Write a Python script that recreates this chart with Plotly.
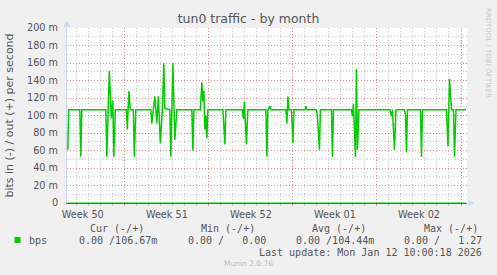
import plotly.graph_objects as go

# ---------------- data ----------------
out_time = [
    "2025-12-10 06:00", "2025-12-10 08:00", "2025-12-11 06:00", "2025-12-11 08:00", "2025-12-11 10:00",
    "2025-12-13 10:00", "2025-12-13 12:00", "2025-12-13 14:00", "2025-12-13 17:00", "2025-12-13 21:00",
    "2025-12-14 00:00", "2025-12-14 02:00", "2025-12-14 05:00", "2025-12-15 03:00", "2025-12-15 05:00",
    "2025-12-15 08:00", "2025-12-15 11:00", "2025-12-15 17:00", "2025-12-15 19:00", "2025-12-15 22:00",
    "2025-12-17 04:00", "2025-12-17 06:00", "2025-12-17 12:00", "2025-12-17 16:00", "2025-12-17 19:00",
    "2025-12-17 23:00", "2025-12-18 03:00", "2025-12-18 06:00", "2025-12-18 08:00", "2025-12-18 18:00",
    "2025-12-18 20:00", "2025-12-18 22:00", "2025-12-19 00:00", "2025-12-19 04:00", "2025-12-19 08:00",
    "2025-12-20 14:00", "2025-12-20 16:00", "2025-12-20 18:00", "2025-12-21 07:00", "2025-12-21 10:00",
    "2025-12-21 12:00", "2025-12-21 14:00", "2025-12-21 16:00", "2025-12-21 18:00", "2025-12-21 20:00",
    "2025-12-21 22:00", "2025-12-23 04:00", "2025-12-23 08:00", "2025-12-23 10:00", "2025-12-24 19:00",
    "2025-12-24 21:00", "2025-12-24 23:00", "2025-12-25 03:00", "2025-12-25 06:00", "2025-12-26 18:00",
    "2025-12-26 20:00", "2025-12-26 22:00", "2025-12-27 02:00", "2025-12-27 04:00", "2025-12-28 10:00",
    "2025-12-28 12:00", "2025-12-28 14:00", "2025-12-28 16:00", "2025-12-28 21:00", "2025-12-29 00:00",
    "2025-12-29 02:00", "2025-12-30 00:00", "2025-12-30 02:00", "2025-12-30 04:00", "2025-12-30 23:00",
    "2025-12-31 01:00", "2025-12-31 05:00", "2025-12-31 07:00", "2026-01-01 05:00", "2026-01-01 07:00",
    "2026-01-01 09:00", "2026-01-02 21:00", "2026-01-02 23:00", "2026-01-03 01:00", "2026-01-03 05:00",
    "2026-01-03 07:00", "2026-01-03 09:00", "2026-01-03 12:00", "2026-01-06 02:00", "2026-01-06 05:00",
    "2026-01-06 07:00", "2026-01-06 11:00", "2026-01-06 14:00", "2026-01-07 07:00", "2026-01-07 09:00",
    "2026-01-07 11:00", "2026-01-07 13:00", "2026-01-08 15:00", "2026-01-08 17:00", "2026-01-08 19:00",
    "2026-01-10 19:00", "2026-01-10 22:00", "2026-01-11 01:00", "2026-01-11 05:00", "2026-01-11 09:00",
    "2026-01-11 11:00", "2026-01-11 14:00", "2026-01-12 10:00",
]
out_milli_bps = [
    61, 106.67, 106.67, 53, 106.67,
    106.67, 53, 108, 151, 97,
    117, 53, 106.67, 106.67, 84,
    128, 106.67, 106.67, 53, 106.67,
    106.67, 91, 122, 91, 122,
    68, 106.67, 160, 108, 106.67,
    53, 106.67, 160, 72, 106.67,
    106.67, 60, 106.67, 106.67, 138,
    116, 128, 84, 100, 74,
    106.67, 106.67, 67, 106.67, 106.67,
    96, 116, 67, 106.67, 106.67,
    53, 106.67, 110.7, 106.67, 106.67,
    91, 122, 106.67, 106.67, 68.5,
    106.67, 106.67, 110.7, 106.67, 106.67,
    99, 61, 106.67, 106.67, 53,
    106.67, 106.67, 99, 113, 53,
    153, 61, 106.67, 106.67, 99,
    106.67, 61, 106.67, 106.67, 101,
    58, 106.67, 106.67, 53, 106.67,
    106.67, 65, 142, 106.67, 106.67,
    53, 106.67, 106.67,
]
in_time = ["2025-12-10 06:00", "2026-01-12 10:00"]
in_bps = [0, 0]

x_range = ["2025-12-10 04:24", "2026-01-12 12:00"]
week_starts = ["2025-12-15", "2025-12-22", "2025-12-29", "2026-01-05", "2026-01-12"]
week_label_pos = ["2025-12-11 12:00", "2025-12-18 12:00", "2025-12-25 12:00",
                  "2026-01-01 12:00", "2026-01-08 12:00"]
week_labels = ["Week 50", "Week 51", "Week 52", "Week 01", "Week 02"]
y_tick_milli = [0, 20, 40, 60, 80, 100, 120, 140, 160, 180, 200]
y_tick_labels = ["0", "20 m", "40 m", "60 m", "80 m", "100 m", "120 m", "140 m",
                 "160 m", "180 m", "200 m"]

legend_headers = ["Cur (-/+)", "Min (-/+)", "Avg (-/+)", "Max (-/+)"]
legend_values = ["0.00 /106.67m", "0.00 /   0.00", "0.00 /104.44m", "0.00 /   1.27"]
last_update = "Last update: Mon Jan 12 10:00:18 2026"

# ---------------- geometry ----------------
W, H = 497, 275
PL, PT, PW, PH = 66.5, 28.3, 400.2, 174.7
PR = W - PL - PW
PB = H - PT - PH


def px(x):
    return (x - PL) / PW


def py(y):
    return (PT + PH - y) / PH


GREEN = "#00CC00"
FONT = "DejaVu Sans"
MONO = "DejaVu Sans Mono"
TXT = "#555555"
MGRID = "rgba(235,110,110,0.6)"
GRID = "#c8c8c8"
AXIS = "#CFD6F8"
DOT = "1px,2px"

fig = go.Figure()
fig.add_trace(go.Scatter(
    x=out_time, y=[v / 1000 for v in out_milli_bps], mode="lines",
    line=dict(color=GREEN, width=1.5), name="bps", showlegend=False))
fig.add_trace(go.Scatter(
    x=in_time, y=in_bps, xaxis="x2", mode="lines",
    line=dict(color=GREEN, width=1), showlegend=False))

fig.update_layout(
    width=W, height=H,
    margin=dict(l=PL, r=PR, t=PT, b=PB, pad=0, autoexpand=False),
    paper_bgcolor="#F0F0F0", plot_bgcolor="#FFFFFF",
    font=dict(family=FONT, color=TXT, size=10),
    title=dict(text="tun0 traffic - by month", x=0.5, xanchor="center",
               y=1 - 19 / H, yanchor="middle",
               font=dict(family=FONT, size=12.5, color=TXT)),
    xaxis=dict(
        type="date", range=x_range, tickmode="array", tickvals=week_starts,
        showticklabels=False, showgrid=True, gridcolor=MGRID, griddash=DOT,
        gridwidth=1, ticks="outside", ticklen=2, tickcolor=MGRID,
        minor=dict(tick0="2025-12-10", dtick=86400000, showgrid=True,
                   gridcolor=GRID, griddash=DOT, ticks="outside", ticklen=2,
                   tickcolor="#c8c8c8"),
        showline=True, linecolor="#5c5c80", linewidth=1, zeroline=False,
        automargin=False, fixedrange=True),
    xaxis2=dict(
        type="date", range=x_range, overlaying="x", matches="x", anchor="y",
        side="bottom", tickmode="array", tickvals=week_label_pos,
        ticktext=week_labels, showgrid=False, ticks="", showline=False,
        zeroline=False, ticklabelstandoff=4, automargin=False,
        tickfont=dict(family=FONT, size=9.7, color=TXT)),
    yaxis=dict(
        range=[0, 0.2], tickmode="array",
        tickvals=[v / 1000 for v in y_tick_milli], ticktext=y_tick_labels,
        showgrid=True, gridcolor=MGRID, griddash=DOT, gridwidth=1,
        minor=dict(dtick=0.01, tick0=0, showgrid=True, gridcolor=GRID,
                   griddash=DOT),
        showline=True, linecolor=AXIS, linewidth=1, zeroline=False, ticks="",
        ticklabelstandoff=6, automargin=False,
        tickfont=dict(family=FONT, size=9.7, color=TXT),
        title=dict(text="bits in (-) / out (+) per second", standoff=11,
                   font=dict(family=FONT, size=11, color=TXT)),
        fixedrange=True),
)

annotations = []
annotations.append(dict(
    xref="paper", yref="paper", x=px(487.5), y=py(53), text="RRDTOOL / TOBI OETIKER",
    showarrow=False, textangle=90, xanchor="center", yanchor="middle",
    font=dict(family=FONT, size=7, color="#c8c8c8")))
for txt, x0 in zip(legend_headers, [89, 200, 311, 423]):
    annotations.append(dict(
        xref="paper", yref="paper", x=px(x0 - 1), y=py(228), text=txt,
        showarrow=False, xanchor="left", yanchor="middle",
        font=dict(family=MONO, size=10, color=TXT)))
annotations.append(dict(
    xref="paper", yref="paper", x=px(26), y=py(240), text="bps",
    showarrow=False, xanchor="left", yanchor="middle",
    font=dict(family=MONO, size=10, color=TXT)))
for txt, x0 in zip(legend_values, [78, 187, 295, 403]):
    annotations.append(dict(
        xref="paper", yref="paper", x=px(x0 - 1), y=py(240), text=txt.replace(" ", "&nbsp;"),
        showarrow=False, xanchor="left", yanchor="middle",
        font=dict(family=MONO, size=10, color=TXT)))
annotations.append(dict(
    xref="paper", yref="paper", x=px(484), y=py(252), text=last_update,
    showarrow=False, xanchor="right", yanchor="middle",
    font=dict(family=MONO, size=10, color=TXT)))
annotations.append(dict(
    xref="paper", yref="paper", x=px(248), y=py(263.5), text="Munin 2.0.76",
    showarrow=False, xanchor="center", yanchor="middle",
    font=dict(family=FONT, size=7.5, color="#bbbbbb")))
fig.update_layout(annotations=annotations)

shapes = [
    dict(type="rect", xref="paper", yref="paper", x0=px(14), x1=px(20),
         y0=py(243), y1=py(237), fillcolor=GREEN, line=dict(width=0)),
    dict(type="line", xref="paper", yref="paper", x0=px(466.7), x1=px(469),
         y0=py(203), y1=py(203), line=dict(color=AXIS, width=1)),
    dict(type="path", xref="paper", yref="paper",
         path=f"M {px(468)} {py(199.5)} L {px(473.5)} {py(203)} L {px(468)} {py(206.5)} Z",
         fillcolor=AXIS, line=dict(width=0)),
    dict(type="line", xref="paper", yref="paper", x0=px(66.5), x1=px(66.5),
         y0=py(28.3), y1=py(25), line=dict(color=AXIS, width=1)),
    dict(type="path", xref="paper", yref="paper",
         path=f"M {px(63)} {py(27)} L {px(66.5)} {py(21)} L {px(70)} {py(27)} Z",
         fillcolor=AXIS, line=dict(width=0)),
]
fig.update_layout(shapes=shapes)

fig.write_html("out.html")
